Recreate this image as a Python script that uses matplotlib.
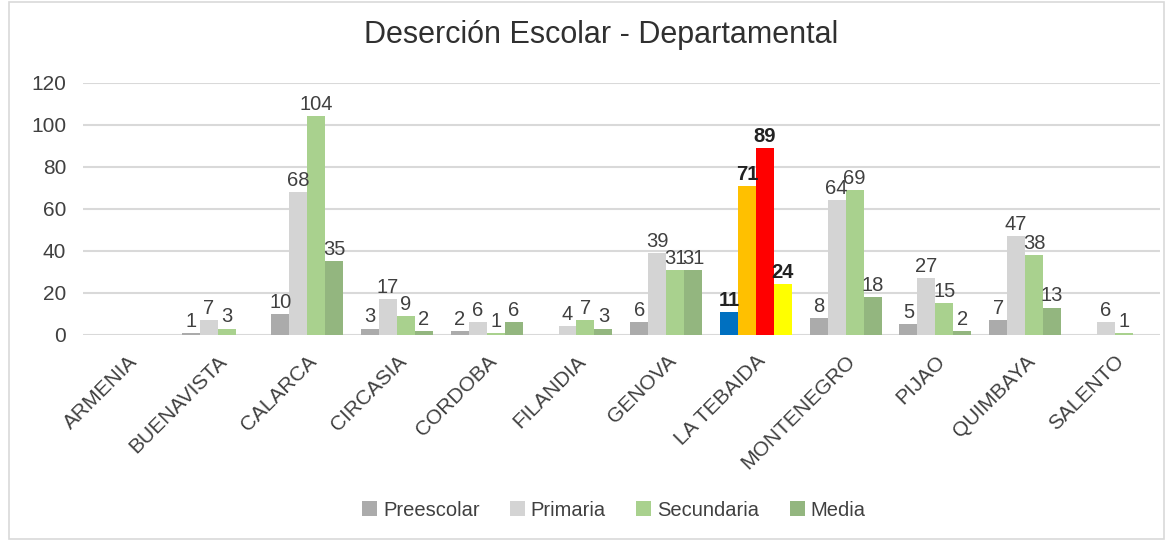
import numpy as np
import matplotlib.pyplot as plt
from matplotlib.patches import Rectangle, Patch

plt.rcParams['font.family'] = ['Liberation Sans Narrow', 'Liberation Sans', 'DejaVu Sans']

municipios = ['ARMENIA', 'BUENAVISTA', 'CALARCA', 'CIRCASIA', 'CORDOBA', 'FILANDIA',
              'GENOVA', 'LA TEBAIDA', 'MONTENEGRO', 'PIJAO', 'QUIMBAYA', 'SALENTO']
preescolar = [0, 1, 10, 3, 2, 0, 6, 11, 8, 5, 7, 0]
primaria = [0, 7, 68, 17, 6, 4, 39, 71, 64, 27, 47, 6]
secundaria = [0, 3, 104, 9, 1, 7, 31, 89, 69, 15, 38, 1]
media = [0, 0, 35, 2, 6, 3, 31, 24, 18, 2, 13, 0]
series = ['Preescolar', 'Primaria', 'Secundaria', 'Media']
colores = ['#ababab', '#d4d4d4', '#a9d18e', '#93b67f']
destacado = 'LA TEBAIDA'
colores_destacado = ['#0070c0', '#ffc000', '#ff0000', '#ffff00']

fig = plt.figure(figsize=(11.69, 5.41), dpi=100)
ax = fig.add_axes([0.071, 0.381, 0.921, 0.466])
fig.patches.append(Rectangle((0.008, 0.004), 0.988, 0.992, transform=fig.transFigure,
                             fill=False, edgecolor='#d9d9d9', linewidth=1.2))

x = np.arange(len(municipios))
w = 0.2
idx = municipios.index(destacado)
for i, (nombre, vals) in enumerate(zip(series, [preescolar, primaria, secundaria, media])):
    pos = x + (i - 1.5) * w
    bars = ax.bar(pos, vals, w, color=colores[i], zorder=3, label=nombre)
    bars[idx].set_facecolor(colores_destacado[i])
    for j, (b, v) in enumerate(zip(bars, vals)):
        if v == 0:
            continue
        ax.text(b.get_x() + w / 2, v + 1, str(v), ha='center', va='bottom',
                fontsize=14.5, color='#222222' if j == idx else '#404040',
                fontweight='bold' if j == idx else 'normal', zorder=4)

ax.set_xlim(-0.5, len(municipios) - 0.5)
ax.set_ylim(0, 120)
ax.set_yticks(range(0, 121, 20))
ax.yaxis.grid(True, color='#d9d9d9', linewidth=1.5, zorder=0)
ax.set_axisbelow(True)
for s in ax.spines.values():
    s.set_visible(False)
ax.tick_params(length=0, labelsize=15, labelcolor='#404040')
ax.tick_params(axis='y', pad=12)
ax.tick_params(axis='x', pad=12)
ax.set_xticks(x)
ax.set_xticklabels(municipios, rotation=45, ha='right', rotation_mode='anchor',
                   fontsize=15, color='#404040')

fig.text(0.514, 0.935, 'Deserción Escolar - Departamental', ha='center', va='center',
         fontsize=22, color='#303030')

handles = [Patch(facecolor=c) for c in colores]
fig.legend(handles, series, loc='center', bbox_to_anchor=(0.525, 0.057), ncol=4,
           frameon=False, fontsize=14.5, handlelength=0.75, handleheight=0.75,
           handletextpad=0.3, columnspacing=1.5, labelcolor='#404040')

fig.savefig('out.png', dpi=100)
